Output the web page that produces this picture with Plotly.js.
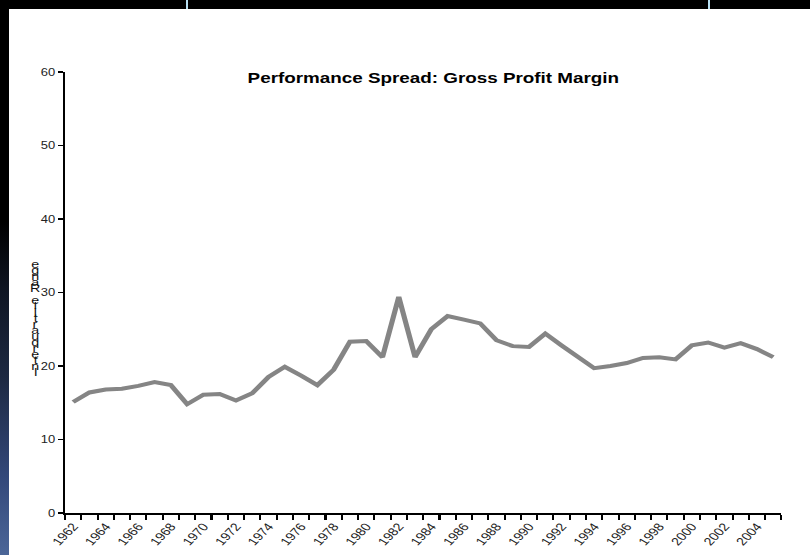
<!DOCTYPE html>
<html>
<head>
<meta charset="utf-8">
<script src="https://cdn.plot.ly/plotly-3.0.1.min.js"></script>
<style>
  html, body { margin: 0; padding: 0; background: #ffffff; }
  #frame { position: relative; width: 810px; height: 555px; overflow: hidden; background: #ffffff; }
  /* chart is laid out narrower and widened horizontally */
  #chart { position: absolute; left: 0; top: 0; width: 623px; height: 555px;
           transform: scaleX(1.30016); transform-origin: 0 0; }
  .topband { position: absolute; left: 0; top: 0; width: 810px; height: 9px; background: #000; }
  .leftband { position: absolute; left: 0; top: 0; width: 9px; height: 555px;
              background: linear-gradient(to bottom, #000 0%, #000 40%, #0f1522 52%, #1d2942 68%, #33487a 86%, #4b6698 100%); }
  .tick-blue { position: absolute; top: 0; width: 2px; height: 9px; background: #b8dff2; }
</style>
</head>
<body>
<div id="frame">
  <div id="chart"></div>
  <div class="topband"></div>
  <div class="leftband"></div>
  <div class="tick-blue" style="left:186px"></div>
  <div class="tick-blue" style="left:708px"></div>
</div>
<script>
// Gross profit margin spread, one value per year
const years = [1962, 1963, 1964, 1965, 1966, 1967, 1968, 1969, 1970, 1971,
               1972, 1973, 1974, 1975, 1976, 1977, 1978, 1979, 1980, 1981,
               1982, 1983, 1984, 1985, 1986, 1987, 1988, 1989, 1990, 1991,
               1992, 1993, 1994, 1995, 1996, 1997, 1998, 1999, 2000, 2001,
               2002, 2003, 2004, 2005];
const spread = [15.1, 16.4, 16.8, 16.9, 17.3, 17.8, 17.4, 14.8, 16.1, 16.2,
                15.3, 16.3, 18.5, 19.9, 18.7, 17.4, 19.5, 23.3, 23.4, 21.2,
                29.4, 21.2, 25.0, 26.8, 26.3, 25.8, 23.5, 22.7, 22.6, 24.4,
                22.8, 21.3, 19.7, 20.0, 20.4, 21.1, 21.2, 20.9, 22.8, 23.2,
                22.5, 23.1, 22.3, 21.2];
const labelYears = [1962, 1964, 1966, 1968, 1970, 1972, 1974, 1976, 1978, 1980,
                    1982, 1984, 1986, 1988, 1990, 1992, 1994, 1996, 1998, 2000,
                    2002, 2004];
const yTicks = [0, 10, 20, 30, 40, 50, 60];
const chartTitle = 'Performance Spread: Gross Profit Margin';
const yTitle = 'Interquartile Range';

const first = years[0] - 0.5;
const last = years[years.length - 1] + 0.5;
// tick marks sit between the yearly categories
const boundaries = [first].concat(years.map(y => y + 0.5));

// y-axis title: upright letters stacked from the end of the word upward
const stacked = yTitle.split('').reverse();
const plotTop = 72, plotBottom = 513, plotH = plotBottom - plotTop;
const annotations = [];
stacked.forEach((ch, i) => {
  if (ch === ' ') return;
  const py = 264 + i * 6.0;
  annotations.push({
    text: ch, showarrow: false, xref: 'paper', yref: 'paper',
    x: -0.041, y: (plotBottom - py) / plotH, xanchor: 'center', yanchor: 'middle',
    font: { family: 'Liberation Sans, Arial, sans-serif', size: 11, color: '#111' }
  });
});

const font = 'Liberation Sans, Arial, sans-serif';

const data = [{
  x: years, y: spread, type: 'scatter', mode: 'lines',
  line: { color: '#858585', width: 4 }, xaxis: 'x', yaxis: 'y',
  hoverinfo: 'skip'
}];

const layout = {
  width: 623, height: 555,
  margin: { l: 50, r: 22, t: plotTop, b: 555 - plotBottom },
  paper_bgcolor: 'rgba(0,0,0,0)', plot_bgcolor: 'rgba(0,0,0,0)',
  showlegend: false,
  title: {
    text: '<b>' + chartTitle + '</b>', xref: 'container', yref: 'container',
    x: 0.535, xanchor: 'center', y: 1 - 78 / 555, yanchor: 'middle',
    font: { family: font, size: 14.5, color: '#000' }
  },
  xaxis: {
    range: [first, last], tickmode: 'array', tickvals: boundaries,
    showticklabels: false, ticks: 'outside', ticklen: 5, tickwidth: 1.6, tickcolor: '#000',
    showline: true, linecolor: '#000', linewidth: 2, showgrid: false, zeroline: false,
    fixedrange: true
  },
  xaxis2: {
    overlaying: 'x', anchor: 'y', side: 'bottom', range: [first, last],
    tickmode: 'array', tickvals: labelYears, ticktext: labelYears.map(String),
    tickangle: -52, ticks: '', showline: false, showgrid: false, zeroline: false,
    tickfont: { family: font, size: 11, color: '#222' }, ticklabelstandoff: 4
  },
  yaxis: {
    range: [0, 60], tickmode: 'array', tickvals: yTicks, ticktext: yTicks.map(String),
    ticks: 'outside', ticklen: 4, tickwidth: 1.5, tickcolor: '#000',
    showline: true, linecolor: '#000', linewidth: 1.6, showgrid: false, zeroline: false,
    tickfont: { family: font, size: 10, color: '#222' }
  },
  annotations: annotations
};

// an empty trace keeps the label axis drawn
data.push({ x: [first], y: [null], xaxis: 'x2', yaxis: 'y', type: 'scatter', mode: 'lines',
            hoverinfo: 'skip', showlegend: false });

Plotly.newPlot('chart', data, layout, { staticPlot: true, displayModeBar: false });
</script>
</body>
</html>
